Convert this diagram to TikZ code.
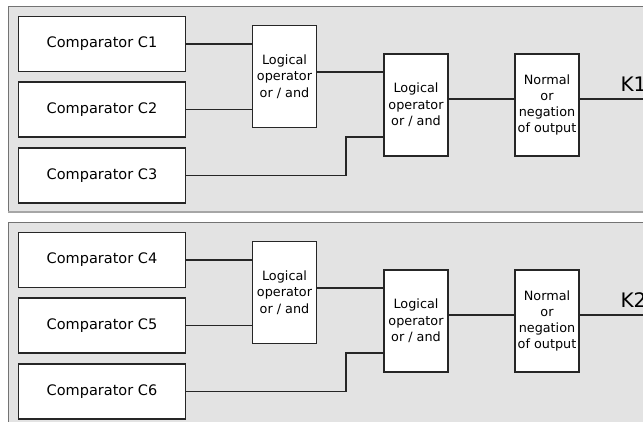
\documentclass[tikz,border=0pt]{standalone}
\usepackage{fontspec}
\setmainfont{DejaVu Sans}
\begin{document}
\begin{tikzpicture}[
        x=1pt, y=-1pt,
        panel/.style={fill=black!11},
        compbox/.style={draw=black!85, line width=1.7pt, fill=white, minimum width=167pt, minimum height=55pt, font=\fontsize{14.5}{17}\selectfont},
        opbox/.style={draw=black!85, line width=1.7pt, fill=white, minimum width=64pt, minimum height=102pt, inner sep=1pt, align=center, font=\fontsize{12.8}{16.3}\selectfont},
        wire/.style={draw=black!85, line width=1.5pt},
    ]
    \useasboundingbox (0,0) rectangle (643,421);
    \clip (0,0) rectangle (643,421);
    \fill[white] (0,0) rectangle (643,421);

    % upper panel
    \fill[panel] (8,6) rectangle (660,212);
    \draw[black!55] (8,212) -- (8,6) -- (660,6);
    \draw[black!35, line width=2pt] (8,212) -- (660,212);
	\node[compbox] (comp_1) at (102,44) {Comparator C1};
	\node[compbox] (comp_2) at (102,109.5) {Comparator C2};
	\node[compbox] (comp_3) at (102,175.5) {Comparator C3};
	\node[opbox] (op_1a) at (284.5,76.5) {Logical\\operator\\or / and};
	\node[opbox] (op_1b) at (416,105) {Logical\\operator\\or / and};
	\node[opbox] (norm_1) at (547,105) {Normal\\or\\negation\\of output};
	\node[anchor=base west, font=\fontsize{20}{24}\selectfont] (label_1) at (617,91) {K1};
	\coordinate (bend_1) at (346,137);
	\coordinate (link_1a) at (350,72);
	\coordinate (link_1b) at (480,99);
	\coordinate (out_1) at (660,99);

	\draw[wire] (comp_1) -- (comp_1 -| op_1a.west);
	\draw[wire] (comp_2) -- (comp_2 -| op_1a.west);
	\draw[wire] (comp_3.east) -| (bend_1) -- (bend_1 -| op_1b.west);
	\draw[wire] (op_1a.east |- link_1a) -- (op_1b.west |- link_1a);
	\draw[wire] (op_1b.east |- link_1b) -- (norm_1.west |- link_1b);
	\draw[wire] (norm_1.east |- link_1b) -- (out_1);

    % lower panel
    \fill[panel] (8,222) rectangle (660,428);
    \draw[black!55] (8,428) -- (8,222) -- (660,222);
	\node[compbox] (comp_4) at (102,260) {Comparator C4};
	\node[compbox] (comp_5) at (102,325.5) {Comparator C5};
	\node[compbox] (comp_6) at (102,391.5) {Comparator C6};
	\node[opbox] (op_2a) at (284.5,292.5) {Logical\\operator\\or / and};
	\node[opbox] (op_2b) at (416,321) {Logical\\operator\\or / and};
	\node[opbox] (norm_2) at (547,321) {Normal\\or\\negation\\of output};
	\node[anchor=base west, font=\fontsize{20}{24}\selectfont] (label_2) at (617,307) {K2};
	\coordinate (bend_2) at (346,353);
	\coordinate (link_2a) at (350,288);
	\coordinate (link_2b) at (480,315);
	\coordinate (out_2) at (660,315);

	\draw[wire] (comp_4) -- (comp_4 -| op_2a.west);
	\draw[wire] (comp_5) -- (comp_5 -| op_2a.west);
	\draw[wire] (comp_6.east) -| (bend_2) -- (bend_2 -| op_2b.west);
	\draw[wire] (op_2a.east |- link_2a) -- (op_2b.west |- link_2a);
	\draw[wire] (op_2b.east |- link_2b) -- (norm_2.west |- link_2b);
	\draw[wire] (norm_2.east |- link_2b) -- (out_2);

    \end{tikzpicture}
\end{document}
